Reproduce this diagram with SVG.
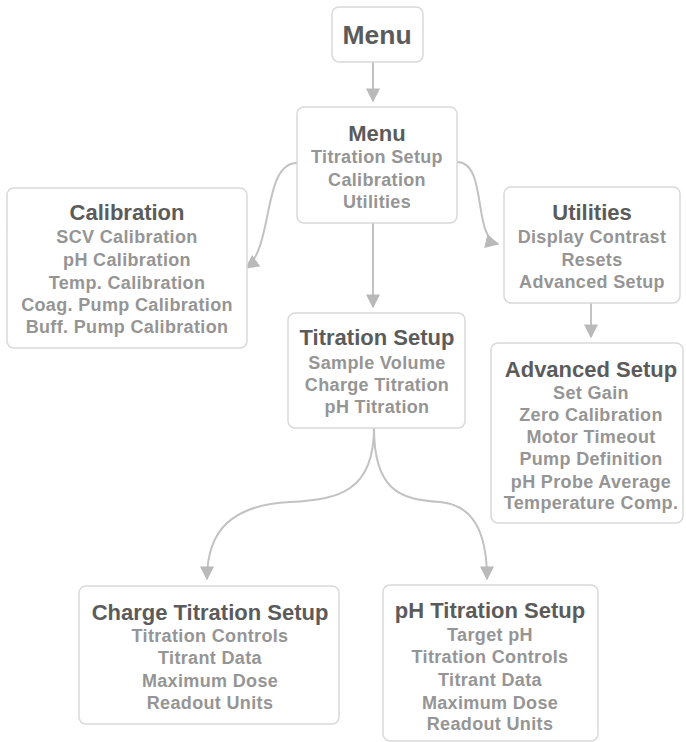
<svg xmlns="http://www.w3.org/2000/svg" width="686" height="742" viewBox="0 0 686 742">
<style>
.box{fill:#ffffff;stroke:#d9d9d9;stroke-width:1.5}
.t{font-family:"Liberation Sans",Arial,sans-serif;font-weight:bold;font-size:22px;fill:#5b5b5b;text-anchor:middle}
.i{font-family:"Liberation Sans",Arial,sans-serif;font-weight:bold;font-size:18px;letter-spacing:0.35px;fill:#959595;text-anchor:middle}
.c{fill:none;stroke:#c2c2c2;stroke-width:2}
</style>
<defs>
<marker id="ah" viewBox="0 0 10 10" refX="9" refY="5" markerWidth="7" markerHeight="7" orient="auto" markerUnits="strokeWidth">
<path d="M0,0 L10,5 L0,10 z" fill="#b9b9b9"/>
</marker>
</defs>
<rect width="686" height="742" fill="#ffffff"/>
<g id="connectors">
<path class="c" marker-end="url(#ah)" d="M373,62 L373,101"/>
<path class="c" marker-end="url(#ah)" d="M373,223 L373,307"/>
<path class="c" marker-end="url(#ah)" d="M297,163 C262,163 274,248 246,268"/>
<path class="c" marker-end="url(#ah)" d="M457,162 C488,162 472,238 498,244"/>
<path class="c" marker-end="url(#ah)" d="M591,303 L591,337"/>
<path class="c" marker-end="url(#ah)" d="M374,428 C374,490 340,500 290,502 C232,505 207,530 207,579"/>
<path class="c" marker-end="url(#ah)" d="M374,428 C374,490 400,500 440,502 C472,505 487,530 487,579"/>
</g>
<g id="menu-top">
<rect class="box" x="332" y="7" width="91" height="55" rx="7"/>
<text class="t" x="377" y="44" style="font-size:26.5px">Menu</text>
</g>
<g id="menu">
<rect class="box" x="297" y="107" width="160" height="116" rx="7"/>
<text class="t" x="377" y="141">Menu</text>
<text class="i" x="377" y="163">Titration Setup</text>
<text class="i" x="377" y="186">Calibration</text>
<text class="i" x="377" y="208">Utilities</text>
</g>
<g id="calibration">
<rect class="box" x="7" y="188" width="240" height="160" rx="7"/>
<text class="t" x="127" y="220">Calibration</text>
<text class="i" x="127" y="243">SCV Calibration</text>
<text class="i" x="127" y="266">pH Calibration</text>
<text class="i" x="127" y="289">Temp. Calibration</text>
<text class="i" x="127" y="311">Coag. Pump Calibration</text>
<text class="i" x="127" y="333">Buff. Pump Calibration</text>
</g>
<g id="utilities">
<rect class="box" x="504" y="187" width="176" height="116" rx="7"/>
<text class="t" x="592" y="220">Utilities</text>
<text class="i" x="592" y="243">Display Contrast</text>
<text class="i" x="592" y="266">Resets</text>
<text class="i" x="592" y="288">Advanced Setup</text>
</g>
<g id="advanced-setup">
<rect class="box" x="491" y="343" width="192" height="180" rx="7"/>
<text class="t" x="591" y="377">Advanced Setup</text>
<text class="i" x="591" y="399">Set Gain</text>
<text class="i" x="591" y="421">Zero Calibration</text>
<text class="i" x="591" y="443">Motor Timeout</text>
<text class="i" x="591" y="465">Pump Definition</text>
<text class="i" x="591" y="488">pH Probe Average</text>
<text class="i" x="591" y="509">Temperature Comp.</text>
</g>
<g id="titration-setup">
<rect class="box" x="288" y="313" width="177" height="115" rx="7"/>
<text class="t" x="377" y="345">Titration Setup</text>
<text class="i" x="377" y="369">Sample Volume</text>
<text class="i" x="377" y="391">Charge Titration</text>
<text class="i" x="377" y="413">pH Titration</text>
</g>
<g id="charge-titration-setup">
<rect class="box" x="79" y="586" width="260" height="138" rx="7"/>
<text class="t" x="210" y="620">Charge Titration Setup</text>
<text class="i" x="210" y="642">Titration Controls</text>
<text class="i" x="210" y="664">Titrant Data</text>
<text class="i" x="210" y="687">Maximum Dose</text>
<text class="i" x="210" y="709">Readout Units</text>
</g>
<g id="ph-titration-setup">
<rect class="box" x="383" y="585" width="215" height="156" rx="7"/>
<text class="t" x="490" y="618">pH Titration Setup</text>
<text class="i" x="490" y="641">Target pH</text>
<text class="i" x="490" y="663">Titration Controls</text>
<text class="i" x="490" y="686">Titrant Data</text>
<text class="i" x="490" y="709">Maximum Dose</text>
<text class="i" x="490" y="730">Readout Units</text>
</g>
</svg>
